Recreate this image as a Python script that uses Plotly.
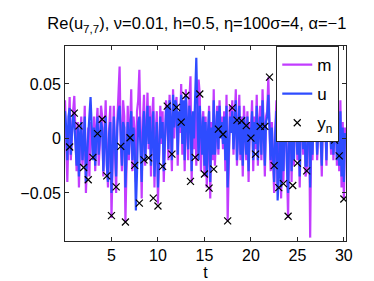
import plotly.graph_objects as go

# sampling step of the m and u curves (time units)
dt = 0.125

# m series, thousandths, 8 samples per unit of t
m_milli = [
    35, -10, -40, 5, 38, -20, 10, 25,
    39, -5, -30, 15, -45, 0, 20, -25,
    -10, 30, -50, -20, 10, -35, 15, 5,
    -15, 20, -30, 10, 28, -25, -5, 30,
    20, -35, 5, 35, -20, -45, 10, 30,
    -73, -20, 30, -10, -50, 15, 40, 66,
    -5, -30, 35, 20, -77, -10, 30, -20,
    10, 45, -30, 20, 5, -40, 25, 35,
    63, -20, -55, 15, 40, -25, 10, 42,
    -10, 30, -35, 20, 38, -45, 5, 25,
    -60, -15, 30, -5, 25, -40, 10, 35,
    20, -20, 40, 10, -30, 45, 0, 30,
    38, -25, 20, 5, 50, -15, 30, -30,
    45, 10, -20, 35, 57, -40, 20, -10,
    30, -25, 15, 54, 40, -30, 10, 25,
    -35, 20, -45, 10, 30, -55, 15, -20,
    45, -25, 10, 30, -15, 35, 5, 20,
    -10, 25, -30, 40, -76, -20, 30, 10,
    35, -15, 25, 45, -25, 15, 40, -20,
    20, -35, 30, 10, -20, 25, -40, 15,
    5, 35, -30, 20, -10, 40, -25, 15,
    30, -20, 45, 10, -35, 20, 25, 56,
    20, -30, 15, -20, -50, 10, 35, -45,
    -10, 30, -55, 20, -40, 15, 25, -30,
    -73, 10, 35, -40, 20, -25, 40, 15,
    -20, 30, -45, 20, 40, -15, 25, -35,
    -30, 15, 35, -91, 20, -20, 30, 10,
    35, -20, 10, 40, 5, -35, 25, 45,
    20, -25, 40, 10, 30, -15, 35, -20,
    10, 40, -25, 20, -30, 35, -45, 15,
    -55, 10,
]

# u series, thousandths, 8 samples per unit of t
u_milli = [
    25, 10, -20, 20, 28, -15, 5, 22,
    15, -10, -25, 10, -35, 5, 15, -20,
    -5, 20, -40, -15, 5, 30, 38, 10,
    -20, 10, -25, 5, 20, -15, 0, 15,
    10, -30, 0, 20, -25, -40, 5, 15,
    -50, -15, 20, -5, -35, 10, 25, 30,
    0, -25, 15, 10, -45, -5, 15, -15,
    5, 25, -20, 10, -10, -66, -30, 15,
    20, -10, -40, 5, 25, -20, 0, 30,
    -5, 20, -25, 10, 25, -35, 0, 15,
    -45, -10, 20, 0, 15, -30, 5, 25,
    30, -10, 35, 15, -20, 40, 10, 35,
    30, -15, 25, 10, 40, -5, 35, -20,
    40, 15, -10, 30, 20, -30, 25, 0,
    45, 74, 20, -20, 30, 10, -15, 20,
    -25, 15, -35, 5, 25, -40, 10, -15,
    35, -15, 5, 25, -10, 30, 0, 15,
    -5, 20, -20, 30, -45, -10, 20, 5,
    25, -10, 20, 35, -20, 10, 30, -15,
    15, -25, 20, 5, -15, 20, -30, 10,
    0, 25, -20, 15, -5, 30, -20, 10,
    20, -15, 35, 5, -25, 15, 20, 40,
    15, -20, 10, -15, -40, 5, 25, -57,
    -35, 20, -45, 15, -30, 10, 20, -25,
    -50, 5, 25, -30, 15, -20, 30, 10,
    -15, 20, -35, 15, 30, -10, 20, -25,
    -25, 10, 25, -45, 15, -15, 20, 5,
    25, -15, 5, 30, 0, -25, 20, 35,
    15, -20, 30, 5, 20, -10, 25, -15,
    5, 30, -20, 15, -25, 25, -35, 10,
    -40, 5,
]

# observation times and values y_n
obs_t = [0.5 * k for k in range(1, 61)]
obs_y = [
    -0.0079, 0.0232, 0.0115, -0.0267, -0.0379, -0.0174, 0.0044, 0.0176,
    -0.0344, -0.0708, -0.0444, -0.0073, -0.0767, 0.0006, -0.0247, -0.0593,
    -0.0197, -0.0179, -0.0547, -0.0620, -0.0256, 0.0297, -0.0144, 0.0285,
    0.0150, 0.0394, -0.0394, -0.0174, 0.0408, -0.0326, -0.0456, -0.0282,
    0.0086, 0.0038, -0.0756, 0.0280, 0.0168, 0.0161, 0.0117, 0.0003,
    -0.0144, 0.0110, 0.0110, 0.0562, -0.0250, -0.0451, -0.0414, -0.0714,
    -0.0432, -0.0227, 0.0300, -0.0297, 0.0165, 0.0300, 0.0015, 0.0156,
    0.0147, -0.0015, -0.0160, -0.0556,
]

x_ticks = [5, 10, 15, 20, 25, 30]
y_ticks = [-0.05, 0, 0.05]
y_tick_text = ["\u22120.05", "0", "0.05"]

title_text = "Re(u<sub>7,7</sub>), \u03bd=0.01, h=0.5, \u03b7=100\u03c3=4, \u03b1=\u22121"

t_m = [i * dt for i in range(len(m_milli))]
m_vals = [v / 1000 for v in m_milli]
t_u = [i * dt for i in range(len(u_milli))]
u_vals = [v / 1000 for v in u_milli]

FONT = "Liberation Sans, Arial, sans-serif"

fig = go.Figure()
fig.add_trace(go.Scatter(x=t_m, y=m_vals, mode="lines", name="m",
                         legendgroup="a",
                         line=dict(color="#c23cff", width=2.2)))
fig.add_trace(go.Scatter(x=t_u, y=u_vals, mode="lines", name="u",
                         legendgroup="b",
                         line=dict(color="#2e4cff", width=2.2)))
fig.add_trace(go.Scatter(x=obs_t, y=obs_y, mode="markers", name="y<sub>n</sub>",
                         legendgroup="c",
                         marker=dict(symbol="x-thin", size=7, color="black",
                                     line=dict(color="black", width=1.2))))

axis_common = dict(showline=True, linecolor="#262626", linewidth=1,
                   mirror="ticks", ticks="inside", ticklen=4,
                   tickcolor="#262626", showgrid=False, zeroline=False,
                   tickfont=dict(family=FONT, size=16, color="black"))

fig.update_layout(
    width=374, height=281,
    margin=dict(l=48, r=36, t=38, b=39),
    paper_bgcolor="white", plot_bgcolor="white",
    font=dict(family=FONT, size=16, color="black"),
    title=dict(text=title_text, x=0.505, xanchor="center", y=0.945,
               yanchor="middle", font=dict(family=FONT, size=16.5)),
    legend=dict(x=0.976, xanchor="right", y=1.0, yanchor="top",
                bgcolor="white", bordercolor="#262626", borderwidth=1,
                font=dict(family=FONT, size=17),
                tracegroupgap=4, itemwidth=30),
    showlegend=True,
)
fig.update_xaxes(range=[0, 30.23], tickvals=x_ticks,
                 title=dict(text="t", standoff=2,
                            font=dict(family=FONT, size=16)),
                 **axis_common)
fig.update_yaxes(range=[-0.0941, 0.0848], tickvals=y_ticks,
                 ticktext=y_tick_text, **axis_common)

fig.write_html("out.html")
